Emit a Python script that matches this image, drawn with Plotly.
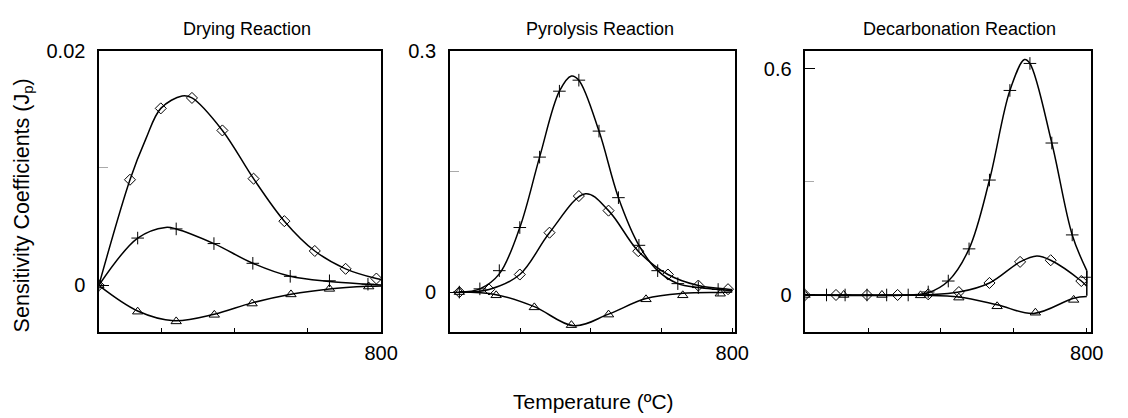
import plotly.graph_objects as go

# ---------------- data ----------------
# Panel 1: Drying reaction
dry_dia_T_curve = [30, 115, 158, 199, 257, 284, 367, 452, 536, 619, 703, 787, 800]
dry_dia_J_curve = [0, 0.0090, 0.01246, 0.01508, 0.01613, 0.01597, 0.0132, 0.00909, 0.00547, 0.00293, 0.00141, 0.00058, 0.0005]
dry_dia_T_mk = [30, 115, 199, 284, 367, 452, 536, 619, 703, 787]
dry_dia_J_mk = [0, 0.0090, 0.01508, 0.01597, 0.0132, 0.00909, 0.00547, 0.00293, 0.00141, 0.00058]

dry_plus_T_curve = [30, 136, 212, 241, 344, 450, 552, 659, 764, 800]
dry_plus_J_curve = [0, 0.00403, 0.00494, 0.00481, 0.00356, 0.00188, 0.00077, 0.00033, 0.0001, 0.00003]
dry_plus_T_mk = [30, 136, 241, 344, 450, 552, 659, 764]
dry_plus_J_mk = [0, 0.00403, 0.00481, 0.00356, 0.00188, 0.00077, 0.00039, 0.0001]

dry_tri_T_curve = [30, 136, 235, 345, 448, 554, 659, 766, 800]
dry_tri_J_curve = [0, -0.00218, -0.00301, -0.00246, -0.00149, -0.00075, -0.0003, -0.00008, -0.00005]
dry_tri_T_mk = [30, 136, 241, 345, 448, 554, 659, 766]
dry_tri_J_mk = [0, -0.00224, -0.00307, -0.00251, -0.00155, -0.00077, -0.0003, -0.0001]

# Panel 2: Pyrolysis reaction
pyr_plus_T_curve = [28, 86, 141, 199, 255, 311, 345, 366, 423, 478, 536, 589, 646, 704, 760, 800]
pyr_plus_J_curve = [0, 0.0040, 0.0226, 0.0802, 0.1677, 0.2496, 0.2685, 0.2633, 0.2000, 0.1173, 0.0581, 0.0266, 0.0105, 0.0056, 0.0032, 0.0016]
pyr_plus_T_mk = [28, 86, 141, 199, 255, 311, 366, 423, 478, 536, 589, 646, 704, 760]
pyr_plus_J_mk = [0, 0.0040, 0.0266, 0.0802, 0.1677, 0.2496, 0.2633, 0.2000, 0.1173, 0.0581, 0.0266, 0.0105, 0.0056, 0.0032]

pyr_dia_T_curve = [28, 112, 199, 283, 385, 450, 534, 618, 704, 788, 800]
pyr_dia_J_curve = [0, 0.0032, 0.0218, 0.0738, 0.1222, 0.1012, 0.0508, 0.0218, 0.0081, 0.0036, 0.0032]
pyr_dia_T_mk = [28, 112, 199, 283, 366, 450, 534, 618, 704, 788]
pyr_dia_J_mk = [0, 0.0032, 0.0218, 0.0738, 0.1193, 0.1012, 0.0508, 0.0218, 0.0081, 0.0036]

pyr_tri_T_curve = [28, 132, 240, 352, 450, 556, 660, 766, 800]
pyr_tri_J_curve = [0, -0.0032, -0.0181, -0.0419, -0.0274, -0.0081, -0.0016, -0.0004, 0]
pyr_tri_T_mk = [28, 132, 240, 345, 450, 556, 660, 766]
pyr_tri_J_mk = [0, -0.004, -0.019, -0.0411, -0.028, -0.009, -0.004, -0.002]

# Panel 3: Decarbonation reaction
dec_plus_T_curve = [27, 310, 365, 420, 477, 533, 589, 629, 644, 704, 760, 800]
dec_plus_J_curve = [0, 0, 0.006, 0.0370, 0.1223, 0.3048, 0.5424, 0.6242, 0.6140, 0.4030, 0.1593, 0.0646]
dec_plus_T_drop = [800, 800]
dec_plus_J_drop = [0.0646, -0.002]
dec_plus_T_mk = [27, 86, 137, 197, 251, 310, 365, 420, 477, 533, 589, 644, 704, 760, 800]
dec_plus_J_mk = [0, 0, 0, 0, 0, 0, 0.008, 0.037, 0.1223, 0.3048, 0.5424, 0.614, 0.403, 0.1593, 0.047]

dec_dia_T_curve = [27, 365, 449, 533, 617, 663, 701, 785, 800]
dec_dia_J_curve = [0, 0.0009, 0.0077, 0.0319, 0.0878, 0.1033, 0.0921, 0.0370, 0.0232]
dec_dia_T_mk = [27, 112, 197, 281, 365, 449, 533, 617, 701, 785]
dec_dia_J_mk = [0, 0, 0, 0, 0.0017, 0.0077, 0.0319, 0.0878, 0.0921, 0.037]

dec_tri_T_curve = [27, 344, 449, 554, 654, 764, 800]
dec_tri_J_curve = [0, -0.0009, -0.0052, -0.0258, -0.0491, -0.0086, -0.0043]
dec_tri_T_mk = [27, 133, 238, 344, 449, 554, 659, 764]
dec_tri_J_mk = [0, 0, 0, -0.001, -0.007, -0.03, -0.047, -0.013]

panel_titles = ["Drying Reaction", "Pyrolysis Reaction", "Decarbonation Reaction"]
x_ranges = [[31, 800], [1, 809], [28, 811]]
y_ranges = [[-0.004, 0.02], [-0.05, 0.3], [-0.099, 0.648]]
y_tickvals = [[0, 0.02], [0, 0.3], [0, 0.6]]
y_ticktext = [["0", "0.02"], ["0", "0.3"], ["0", "0.6"]]
y_minor = [[0.01], [0.15], [0.3]]
x_label_vals = [800]
x_minor_vals = [200, 400, 600]

# ---------------- layout geometry (pixels) ----------------
W, H = 1128, 418
px_domains = [(100.7, 387.0), (456.7, 746.7), (817.7, 1107.5)]
py_top, py_bot = 40.7, 330.0
title_px = [251, 609, 974]

FONT = "Liberation Sans, Arial, sans-serif"

fig = go.Figure()

panels = [
    [(dry_dia_T_curve, dry_dia_J_curve, dry_dia_T_mk, dry_dia_J_mk, "diamond-open"),
     (dry_plus_T_curve, dry_plus_J_curve, dry_plus_T_mk, dry_plus_J_mk, "cross-thin"),
     (dry_tri_T_curve, dry_tri_J_curve, dry_tri_T_mk, dry_tri_J_mk, "triangle-up-open")],
    [(pyr_dia_T_curve, pyr_dia_J_curve, pyr_dia_T_mk, pyr_dia_J_mk, "diamond-open"),
     (pyr_plus_T_curve, pyr_plus_J_curve, pyr_plus_T_mk, pyr_plus_J_mk, "cross-thin"),
     (pyr_tri_T_curve, pyr_tri_J_curve, pyr_tri_T_mk, pyr_tri_J_mk, "triangle-up-open")],
    [(dec_dia_T_curve, dec_dia_J_curve, dec_dia_T_mk, dec_dia_J_mk, "diamond-open"),
     (dec_plus_T_curve, dec_plus_J_curve, dec_plus_T_mk, dec_plus_J_mk, "cross-thin"),
     (dec_tri_T_curve, dec_tri_J_curve, dec_tri_T_mk, dec_tri_J_mk, "triangle-up-open")],
]

marker_sizes = {"diamond-open": 8.5, "cross-thin": 9, "triangle-up-open": 9}

for i, series in enumerate(panels):
    xa = "x" if i == 0 else f"x{i+1}"
    ya = "y" if i == 0 else f"y{i+1}"
    for (tc, jc, tm, jm, sym) in series:
        fig.add_trace(go.Scatter(x=tc, y=jc, mode="lines", xaxis=xa, yaxis=ya,
                                 line=dict(color="black", width=1.5, shape="spline", smoothing=1.0),
                                 hoverinfo="skip"))
        fig.add_trace(go.Scatter(x=tm, y=jm, mode="markers", xaxis=xa, yaxis=ya,
                                 marker=dict(symbol=sym, size=marker_sizes[sym], color="black",
                                             line=dict(color="black", width=1))))
    if i == 2:
        fig.add_trace(go.Scatter(x=dec_plus_T_drop, y=dec_plus_J_drop, mode="lines",
                                 xaxis=xa, yaxis=ya, line=dict(color="black", width=1.5)))

layout = dict(width=W, height=H, margin=dict(l=0, r=0, t=0, b=0),
              paper_bgcolor="white", plot_bgcolor="white", showlegend=False,
              font=dict(family=FONT, color="black"))

for i in range(3):
    xk = "xaxis" if i == 0 else f"xaxis{i+1}"
    yk = "yaxis" if i == 0 else f"yaxis{i+1}"
    ya = "y" if i == 0 else f"y{i+1}"
    xa = "x" if i == 0 else f"x{i+1}"
    x0, x1 = px_domains[i]
    layout[xk] = dict(domain=[x0 / W, x1 / W], anchor=ya, range=x_ranges[i],
                      showgrid=False, zeroline=False, showline=True, mirror=True,
                      linecolor="black", linewidth=1.5,
                      tickmode="array", tickvals=x_label_vals,
                      ticks="inside", ticklen=5, tickwidth=1, tickcolor="black",
                      ticklabelstandoff=2, tickfont=dict(size=20, family=FONT, color="black"),
                      minor=dict(tickmode="array", tickvals=x_minor_vals, ticks="inside",
                                 ticklen=5, tickwidth=1, tickcolor="black"))
    layout[yk] = dict(domain=[1 - py_bot / H, 1 - py_top / H], anchor=xa, range=y_ranges[i],
                      showgrid=False, zeroline=False, showline=True, mirror=True,
                      linecolor="black", linewidth=1.5,
                      tickmode="array", tickvals=y_tickvals[i], ticktext=y_ticktext[i],
                      ticks="inside", ticklen=10, tickwidth=1, tickcolor="black",
                      ticklabelstandoff=8, tickfont=dict(size=20, family=FONT, color="black"),
                      minor=dict(tickmode="array", tickvals=y_minor[i], ticks="inside",
                                 ticklen=9, tickwidth=1, tickcolor="#aaaaaa"))

annotations = []
for i, t in enumerate(panel_titles):
    annotations.append(dict(text=t, x=title_px[i] / W, y=1 - 18 / H, xref="paper", yref="paper",
                            xanchor="center", yanchor="middle", showarrow=False,
                            font=dict(size=18, family=FONT, color="black")))
annotations.append(dict(text="Sensitivity Coefficients (J<sub>p</sub>)", x=24 / W, y=1 - 200 / H,
                        xref="paper", yref="paper", xanchor="center", yanchor="middle",
                        textangle=-90, showarrow=False, font=dict(size=21.5, family=FONT, color="black")))
annotations.append(dict(text="Temperature (ºC)", x=603 / W, y=1 - 401 / H,
                        xref="paper", yref="paper", xanchor="center", yanchor="middle",
                        showarrow=False, font=dict(size=21, family=FONT, color="black")))
layout["annotations"] = annotations

fig.update_layout(**layout)
fig.write_html("out.html")
